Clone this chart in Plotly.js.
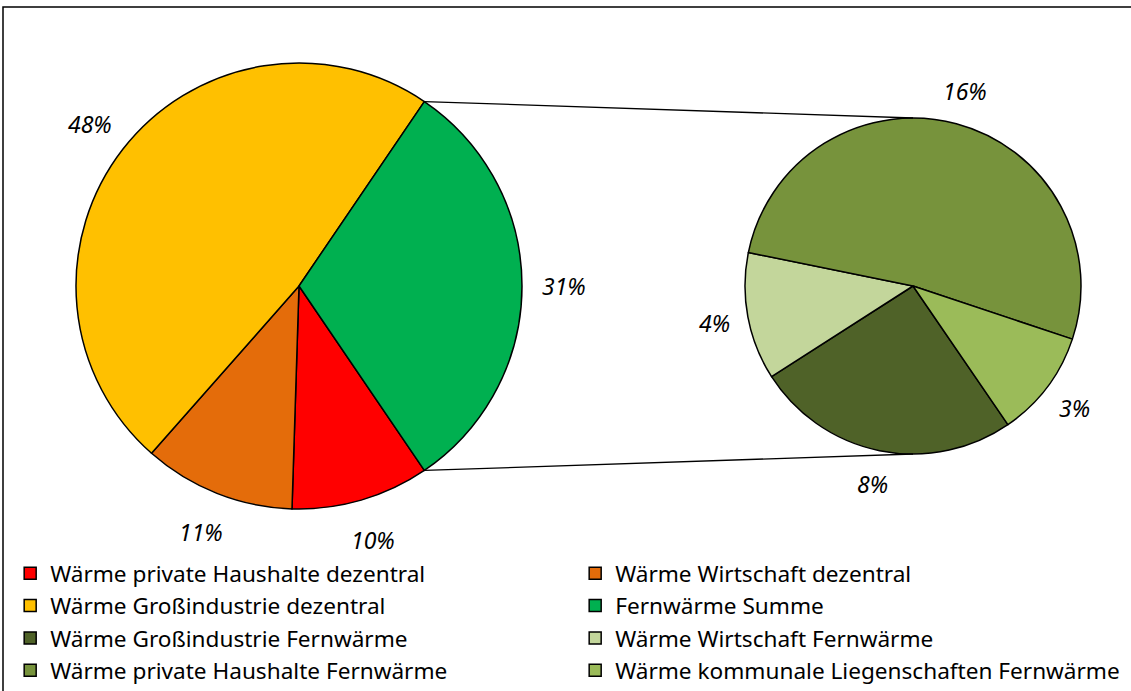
<!DOCTYPE html>
<html><head><meta charset="utf-8">
<script src="https://cdn.plot.ly/plotly-3.0.1.min.js"></script>
<style>html,body{margin:0;padding:0;background:#fff}#chart{width:1131px;height:691px}</style>
</head><body><div id="chart"></div>
<script>
const mainLabels = ['Wärme private Haushalte dezentral','Wärme Wirtschaft dezentral','Wärme Großindustrie dezentral','Fernwärme Summe'];
const mainValues = [10, 11, 48, 31];
const mainColors = ['#FF0000','#E46C0A','#FFC000','#00B050'];
const subLabels = ['Wärme Großindustrie Fernwärme','Wärme Wirtschaft Fernwärme','Wärme private Haushalte Fernwärme','Wärme kommunale Liegenschaften Fernwärme'];
const subValues = [7.9, 3.8, 16.1, 3.2];
const subColors = ['#4F6228','#C3D69B','#77933C','#9BBB59'];

const W = 1131, H = 691;
const mainRot = 145.8, subRot = 145.6;
const mainDom = {x:[76/W, 522/W], y:[1-509/H, 1-63/H]};
const subDom = {x:[745/W, 1081/W], y:[1-454/H, 1-118/H]};
const labelFont = {family:'"Noto Sans", sans-serif', size:23, style:'italic', color:'#000'};

function geom(d){
  const cx = (d.x[0]+d.x[1])/2*W, cy = (1-(d.y[0]+d.y[1])/2)*H;
  const r = Math.min((d.x[1]-d.x[0])*W, (d.y[1]-d.y[0])*H)/2;
  return {cx, cy, r};
}
const gm = geom(mainDom), gs = geom(subDom);
function px(g, a, rr){ const R = rr===undefined ? g.r : rr; return [g.cx + R*Math.sin(a), g.cy - R*Math.cos(a)]; }
const rad = Math.PI/180;

// connector lines from the "Fernwärme Summe" slice edges to the second pie
const total = mainValues.reduce((a,b)=>a+b,0);
const before = mainValues.slice(0,3).reduce((a,b)=>a+b,0);
const pTop = px(gm, (mainRot + before/total*360)*rad), pBot = px(gm, mainRot*rad);
const sTop = [gs.cx, gs.cy - gs.r], sBot = [gs.cx, gs.cy + gs.r];
function line(a, b){
  return {type:'line', xref:'paper', yref:'paper', x0:a[0]/W, y0:1-a[1]/H, x1:b[0]/W, y1:1-b[1]/H, line:{color:'#000', width:1.3}};
}

// percentage labels placed outside each slice, at the slice's middle angle
function sliceLabels(values, rot, g, offset){
  const tot = values.reduce((a,b)=>a+b,0);
  let acc = 0; const out = [];
  values.forEach(v => {
    const mid = (rot + (acc + v/2)/tot*360)*rad;
    acc += v;
    const p = px(g, mid, g.r + offset);
    out.push({x:p[0]/W, y:1-p[1]/H, xref:'paper', yref:'paper', xanchor:'center', yanchor:'middle',
      text: Math.round(v) + '%', showarrow:false, font:labelFont});
  });
  return out;
}

const traces = [
  {type:'pie', labels:mainLabels, values:mainValues, marker:{colors:mainColors, line:{color:'#000', width:1.5}},
   sort:false, direction:'clockwise', rotation:mainRot, domain:mainDom, textinfo:'none', hoverinfo:'none'},
  {type:'pie', labels:subLabels, values:subValues, marker:{colors:subColors, line:{color:'#000', width:1.5}},
   sort:false, direction:'clockwise', rotation:subRot, domain:subDom, textinfo:'none', hoverinfo:'none'}
];

const layout = {
  width:W, height:H, margin:{l:0,r:0,t:0,b:0, autoexpand:false},
  paper_bgcolor:'#fff', plot_bgcolor:'#fff',
  showlegend:true,
  legend:{orientation:'h', x:0.009, y:1-552/H, xanchor:'left', yanchor:'top',
    entrywidth:520, entrywidthmode:'pixels', traceorder:'normal',
    font:{family:'"Noto Sans", sans-serif', size:22.6, color:'#000'}, bgcolor:'rgba(0,0,0,0)'},
  annotations: sliceLabels(mainValues, mainRot, gm, 42).concat(sliceLabels(subValues, subRot, gs, 34)),
  shapes:[
    line(pTop, sTop), line(pBot, sBot),
    {type:'rect', xref:'paper', yref:'paper', x0:3/W, y0:1-7/H, x1:1.02, y1:-0.02, line:{color:'#000', width:1.5}, fillcolor:'rgba(0,0,0,0)'}
  ]
};
Plotly.newPlot('chart', traces, layout, {displayModeBar:false, staticPlot:true});
</script></body></html>
